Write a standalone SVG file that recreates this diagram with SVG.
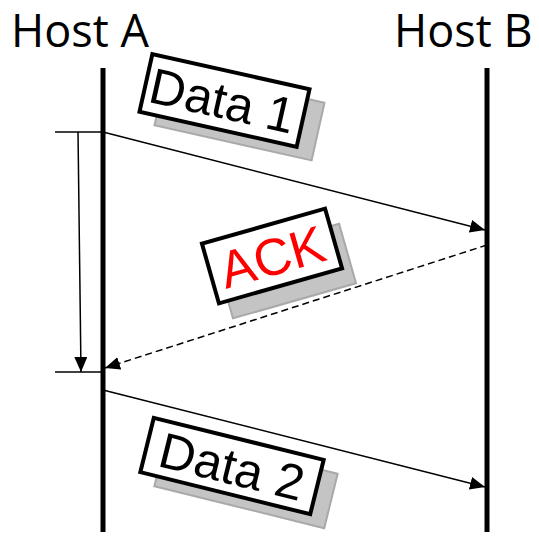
<svg xmlns="http://www.w3.org/2000/svg" width="539" height="538" viewBox="0 0 539 538">
<defs>
<marker id="ah" viewBox="0 0 15 13" refX="15" refY="6.5" markerWidth="15" markerHeight="13" markerUnits="userSpaceOnUse" orient="auto">
<path d="M0,0 L15,6.5 L0,13 Z" fill="#000"/>
</marker>
</defs>
<style>
.host{font-family:"Open Sans","DejaVu Sans",sans-serif;font-size:45px;fill:#000}
.life{stroke:#000;stroke-width:5}
.conn{stroke:#000;stroke-width:1.5;fill:none}
.shadow{fill:#c4c4c4;stroke:#a9a9a9;stroke-width:2}
.box{fill:#fff;stroke:#000;stroke-width:4}
.lbl{font-family:"Liberation Sans",Arial,sans-serif;text-anchor:middle}
</style>
<rect width="539" height="538" fill="#fff"/>
<g id="hostA">
<text class="host" x="11" y="47">Host A</text>
<line class="life" x1="103" y1="68" x2="103" y2="532"/>
</g>
<g id="hostB">
<text class="host" x="394" y="47">Host B</text>
<line class="life" x1="487" y1="68" x2="487" y2="532"/>
</g>
<g id="connectors">
<line class="conn" x1="55" y1="132" x2="103" y2="132"/>
<line class="conn" x1="55" y1="372" x2="103" y2="372"/>
<line class="conn" x1="78" y1="132" x2="81" y2="372" marker-end="url(#ah)"/>
<line class="conn" x1="103" y1="132" x2="485" y2="230" marker-end="url(#ah)"/>
<line class="conn" x1="487" y1="245" x2="105" y2="368" stroke-dasharray="7,4" marker-end="url(#ah)"/>
<line class="conn" x1="103" y1="390" x2="485" y2="487" marker-end="url(#ah)"/>
</g>
<g id="data1">
<rect class="shadow" x="-80.5" y="-29.5" width="161" height="59" transform="translate(239.5,114) rotate(12.6)"/>
<g transform="translate(224.5,100.5) rotate(12.6)">
<rect class="box" x="-80.5" y="-29.5" width="161" height="59"/>
<text class="lbl" x="-2" y="18" font-size="50" fill="#000">Data 1</text>
</g>
</g>
<g id="ack">
<rect class="shadow" x="-64" y="-31" width="128" height="62" transform="translate(286,271) rotate(-15.9)"/>
<g transform="translate(272,256) rotate(-15.9)">
<rect class="box" x="-64" y="-31" width="128" height="62"/>
<text class="lbl" x="0" y="19" font-size="52" fill="#ff0000">ACK</text>
</g>
</g>
<g id="data2">
<rect class="shadow" x="-87.5" y="-28" width="175" height="56" transform="translate(246,480) rotate(13.9)"/>
<g transform="translate(232,466) rotate(13.9)">
<rect class="box" x="-87.5" y="-28" width="175" height="56"/>
<text class="lbl" x="0" y="18" font-size="50" fill="#000">Data 2</text>
</g>
</g>
</svg>
